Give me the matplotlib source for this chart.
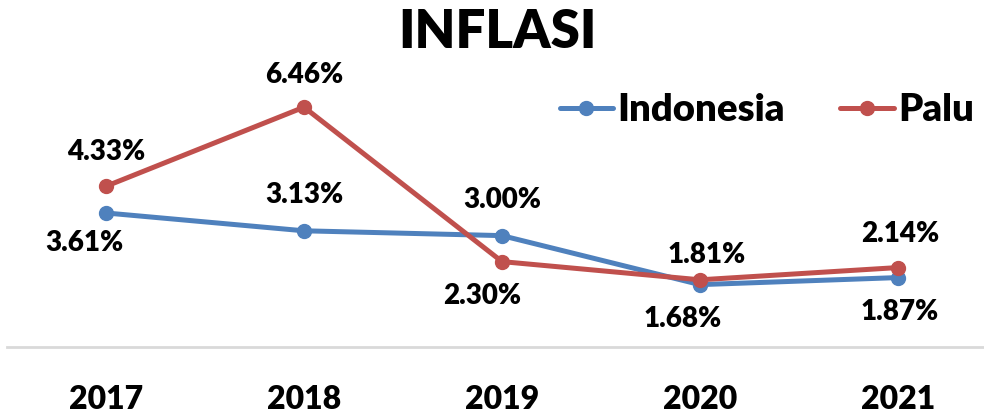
import matplotlib.pyplot as plt

plt.rcParams['font.family'] = ['Lato', 'DejaVu Sans']

# data
years = ['2017', '2018', '2019', '2020', '2021']
indonesia = [3.61, 3.13, 3.00, 1.68, 1.87]
palu = [4.33, 6.46, 2.30, 1.81, 2.14]

# label offsets in pixels (dx, dy), dy positive = up
off_indo = [(-22, -30), (0, 36), (0, 36), (-17, -34), (2, -34)]
off_palu = [(0, 34), (0, 32), (-20, -34), (7, 25), (2, 34)]

W, H = 984, 415
fig = plt.figure(figsize=(W / 100, H / 100), dpi=100)
ax = fig.add_axes([7 / W, (H - 347) / H, 977 / W, 297 / H])

x = list(range(len(years)))
ax.plot(x, indonesia, color='#4F81BD', lw=3.6, marker='o', ms=10,
        solid_capstyle='round', label='Indonesia', zorder=3)
ax.plot(x, palu, color='#C0504D', lw=3.6, marker='o', ms=10,
        solid_capstyle='round', label='Palu', zorder=4)

px = 0.72  # pixels -> points
for xi, v, (dx, dy) in zip(x, indonesia, off_indo):
    ax.annotate(f'{v:.2f}%', (xi, v), xytext=(dx * px, dy * px), textcoords='offset points',
                ha='center', va='center', fontsize=20, fontweight='heavy', zorder=5)
for xi, v, (dx, dy) in zip(x, palu, off_palu):
    ax.annotate(f'{v:.2f}%', (xi, v), xytext=(dx * px, dy * px), textcoords='offset points',
                ha='center', va='center', fontsize=20, fontweight='heavy', zorder=5)

ax.set_xlim(-0.5, -0.5 + 977 / 198)
ax.set_ylim(0, 8.0)
ax.set_xticks(x)
ax.set_xticklabels(years, fontsize=23, fontweight='heavy')
ax.tick_params(axis='x', length=0, pad=27)
ax.set_yticks([])
for s in ['top', 'right', 'left']:
    ax.spines[s].set_visible(False)
ax.spines['bottom'].set_color('#D9D9D9')
ax.spines['bottom'].set_linewidth(2)

fig.text(497 / W, 1 - 32 / H, 'INFLASI', ha='center', va='center',
         fontsize=38, fontweight='heavy')

leg = ax.legend(loc='center right', bbox_to_anchor=(974 / W, 1 - 110 / H),
                bbox_transform=fig.transFigure, ncol=2, frameon=False,
                prop={'size': 27.5, 'weight': 'heavy'}, handlelength=1.39,
                handletextpad=0.12, columnspacing=1.45, borderpad=0, borderaxespad=0)

fig.savefig('out.png', dpi=100)
